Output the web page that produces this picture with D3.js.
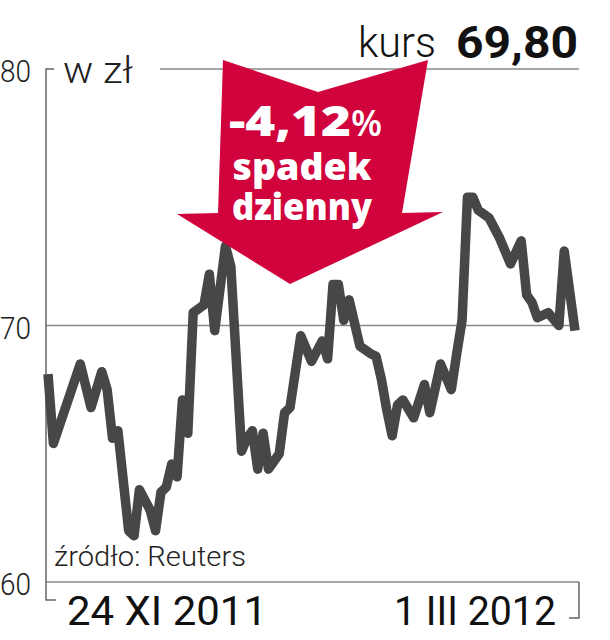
<!DOCTYPE html>
<html><head><meta charset="utf-8">
<script src="https://cdn.jsdelivr.net/npm/d3@7"></script>
<style>html,body{margin:0;padding:0;background:#fff}svg{display:block}</style>
</head><body>
<script>
// ---- data ----
const dates = ["2011-11-24","2011-11-25","2011-11-30","2011-12-02","2011-12-04","2011-12-05","2011-12-06","2011-12-07",
"2011-12-09","2011-12-10","2011-12-11","2011-12-13","2011-12-14","2011-12-15","2011-12-16","2011-12-17","2011-12-18",
"2011-12-19","2011-12-20","2011-12-21","2011-12-23","2011-12-24","2011-12-25","2011-12-27","2011-12-28","2011-12-30",
"2011-12-31","2012-01-01","2012-01-02","2012-01-03","2012-01-04","2012-01-06","2012-01-07","2012-01-08","2012-01-10",
"2012-01-12","2012-01-14","2012-01-15","2012-01-16","2012-01-17","2012-01-18","2012-01-19","2012-01-21","2012-01-23",
"2012-01-24","2012-01-25","2012-01-26","2012-01-27","2012-01-28","2012-01-29","2012-01-31","2012-02-02","2012-02-03",
"2012-02-05","2012-02-07","2012-02-08","2012-02-09","2012-02-10","2012-02-11","2012-02-12","2012-02-14","2012-02-16",
"2012-02-18","2012-02-20","2012-02-21","2012-02-22","2012-02-23","2012-02-25","2012-02-27","2012-02-28","2012-03-01"];
const prices = [68.1,65.4,68.5,66.8,68.2,67.5,65.6,65.9,
62.0,61.8,63.6,62.8,62.0,63.5,63.7,64.6,64.1,
67.1,65.8,70.5,70.8,72.0,69.8,73.1,72.3,65.1,
65.6,65.9,64.4,65.8,64.4,65.0,66.6,66.8,69.6,
68.6,69.4,68.7,71.6,71.6,70.2,71.0,69.2,68.9,
68.8,67.9,66.7,65.7,66.9,67.1,66.4,67.7,66.6,
68.5,67.5,68.9,70.2,75.0,75.0,74.5,74.2,73.4,
72.4,73.3,71.2,70.9,70.3,70.5,70.0,72.9,69.8];
const yTicks = [60, 70, 80];
const unitLabel = "w zł";
const lastLabel = "kurs";
const lastValue = "69,80";
const changeLabel = "-4,12";
const changeLines = ["spadek", "dzienny"];
const startLabel = "24 XI 2011";
const endLabel = "1 III 2012";
const sourceLabel = "źródło: Reuters";

// ---- drawing ----
const W = 610, H = 640;
const svg = d3.select("body").append("svg").attr("width", W).attr("height", H);
const parse = d3.timeParse("%Y-%m-%d");
const data = dates.map((d, i) => ({date: parse(d), v: prices[i]}));

const x = d3.scaleTime().domain([parse(dates[0]), parse(dates[dates.length - 1])]).range([48, 575]);
const y = d3.scaleLinear().domain([60, 80]).range([582, 69]);
const axisX = 46, rightX = 579;
const light = "Roboto, 'Liberation Sans', sans-serif";

// gridlines
svg.selectAll("line.grid").data(yTicks).join("line")
  .attr("class", "grid")
  .attr("x1", d => d === 80 ? 160 : axisX).attr("x2", rightX)
  .attr("y1", d => y(d)).attr("y2", d => y(d))
  .attr("stroke", "#8a8a8a").attr("stroke-width", 1.5);

// left axis bracket
svg.append("path")
  .attr("d", `M${axisX + 8},${y(80)} H${axisX} V600 H${axisX + 10}`)
  .attr("fill", "none").attr("stroke", "#666").attr("stroke-width", 1.5);
// right bracket
svg.append("path")
  .attr("d", `M${rightX},${y(60)} V618 H${rightX - 10}`)
  .attr("fill", "none").attr("stroke", "#666").attr("stroke-width", 1.5);

// tick labels
svg.selectAll("text.tick").data(yTicks).join("text")
  .attr("class", "tick")
  .attr("x", 0).attr("y", d => y(d) + 13)
  .attr("font-family", light).attr("font-weight", 300).attr("font-size", 31)
  .attr("textLength", 31).attr("lengthAdjust", "spacingAndGlyphs")
  .attr("fill", "#222").text(d => d);

svg.append("text").attr("x", 63).attr("y", 83)
  .attr("font-family", light).attr("font-weight", 300).attr("font-size", 37)
  .attr("textLength", 70).attr("lengthAdjust", "spacingAndGlyphs")
  .attr("fill", "#222").text(unitLabel);

// price line
svg.append("path").datum(data)
  .attr("d", d3.line().x(d => x(d.date)).y(d => y(d.v)))
  .attr("fill", "none").attr("stroke", "#474747").attr("stroke-width", 9.5)
  .attr("stroke-linejoin", "round").attr("stroke-linecap", "butt");

// arrow
svg.append("polygon")
  .attr("points", "223,60 318,92 428,60 402,213 443,212 290,284 177,214 218,213")
  .attr("fill", "#d0033c");

const at = svg.append("text").attr("x", 229).attr("y", 136)
  .attr("font-family", "'Open Sans', sans-serif").attr("fill", "#fff");
at.append("tspan").attr("font-weight", 800).attr("font-size", 43)
  .attr("textLength", 122).attr("lengthAdjust", "spacingAndGlyphs").text(changeLabel);
at.append("tspan").attr("font-weight", 600).attr("font-size", 36).text("%");

svg.selectAll("text.chg").data(changeLines).join("text")
  .attr("class", "chg")
  .attr("x", 302).attr("y", (d, i) => 180 + i * 40)
  .attr("text-anchor", "middle")
  .attr("font-family", "'Open Sans', sans-serif").attr("font-weight", 800).attr("font-size", 37)
  .attr("textLength", (d, i) => i ? 140 : 139).attr("lengthAdjust", "spacingAndGlyphs")
  .attr("fill", "#fff").text(d => d);

// last price
svg.append("text").attr("x", 358).attr("y", 57)
  .attr("font-family", light).attr("font-weight", 300).attr("font-size", 43)
  .attr("textLength", 78).attr("lengthAdjust", "spacingAndGlyphs")
  .attr("fill", "#111").text(lastLabel);
svg.append("text").attr("x", 456).attr("y", 58)
  .attr("font-family", "Roboto, sans-serif").attr("font-weight", 700).attr("font-size", 45)
  .attr("textLength", 122).attr("lengthAdjust", "spacingAndGlyphs")
  .attr("fill", "#111").text(lastValue);

// source
svg.append("text").attr("x", 54).attr("y", 566)
  .attr("font-family", light).attr("font-weight", 300).attr("font-size", 28)
  .attr("textLength", 192).attr("lengthAdjust", "spacingAndGlyphs")
  .attr("fill", "#222").text(sourceLabel);

// date labels
svg.append("text").attr("x", 67).attr("y", 625)
  .attr("font-family", "Roboto, sans-serif").attr("font-weight", 400).attr("font-size", 41)
  .attr("textLength", 200).attr("lengthAdjust", "spacingAndGlyphs")
  .attr("fill", "#111").text(startLabel);
svg.append("text").attr("x", 394).attr("y", 625)
  .attr("font-family", "Roboto, sans-serif").attr("font-weight", 400).attr("font-size", 41)
  .attr("textLength", 162).attr("lengthAdjust", "spacingAndGlyphs")
  .attr("fill", "#111").text(endLabel);
</script>
</body></html>
